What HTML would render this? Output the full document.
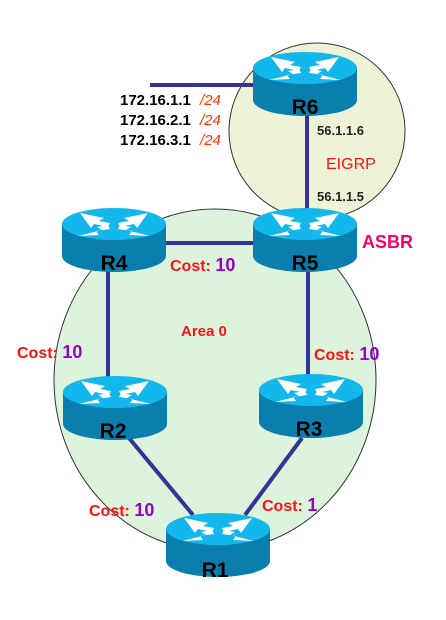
<!DOCTYPE html>
<html><head><meta charset="utf-8"><style>
html,body{margin:0;padding:0;background:#fff;}
svg text{font-family:"Liberation Sans",Arial,sans-serif;font-weight:bold;}
</style></head><body>
<svg width="446" height="615" viewBox="0 0 446 615" xmlns="http://www.w3.org/2000/svg">
<defs>
<g id="rt">
  <path d="M0,16 L0,48 A52,16 0 0 0 104,48 L104,16 Z" fill="#0a7fae"/>
  <ellipse cx="52" cy="16" rx="52" ry="16" fill="#12b8ec"/>
  <g fill="#fff">
    <polygon points="18,5 42,10 37,13 48,15 46,19 32,16 29,20"/>
    <polygon points="86,5 62,10 67,13 56,15 58,19 72,16 75,20"/>
    <polygon points="16,28 40,22 35,19 46,17 48,21 34,23 37,27"/>
    <polygon points="88,28 64,22 69,19 58,17 56,21 70,23 67,27"/>
  </g>
</g>
</defs>
<circle cx="317" cy="131" r="88" fill="#eef3d8" stroke="#333" stroke-width="1"/>
<ellipse cx="215" cy="380" rx="161" ry="171" fill="#dcf3dc" stroke="#333" stroke-width="1"/>
<g stroke="#333399" stroke-width="4" fill="none">
  <line x1="150" y1="85" x2="255" y2="85"/>
  <line x1="307" y1="115" x2="307" y2="210"/>
  <line x1="166" y1="243" x2="255" y2="243"/>
  <line x1="108" y1="268" x2="108" y2="380"/>
  <line x1="308" y1="268" x2="308" y2="378"/>
  <line x1="129" y1="438" x2="193" y2="515"/>
  <line x1="302" y1="438" x2="245" y2="515"/>
</g>
<use href="#rt" x="253" y="52"/>
<use href="#rt" x="253" y="208"/>
<use href="#rt" x="62" y="208"/>
<use href="#rt" x="63" y="376"/>
<use href="#rt" x="259" y="374"/>
<use href="#rt" x="166" y="513"/>
<g font-size="21" fill="#000" text-anchor="middle">
  <text x="305" y="114">R6</text>
  <text x="305" y="270">R5</text>
  <text x="114" y="270">R4</text>
  <text x="113" y="438">R2</text>
  <text x="309" y="436">R3</text>
  <text x="215" y="577">R1</text>
</g>
<g font-size="15" fill="#000">
  <text x="120" y="105">172.16.1.1</text>
  <text x="120" y="125">172.16.2.1</text>
  <text x="120" y="145">172.16.3.1</text>
</g>
<g font-size="15" fill="#ff3300" font-style="italic">
  <text x="200" y="105" style="font-weight:normal">/24</text>
  <text x="200" y="125" style="font-weight:normal">/24</text>
  <text x="200" y="145" style="font-weight:normal">/24</text>
</g>
<g font-size="13" fill="#222">
  <text x="317" y="135">56.1.1.6</text>
  <text x="317" y="201">56.1.1.5</text>
</g>
<text x="326" y="169" font-size="16" fill="#ff1111" style="font-weight:normal">EIGRP</text>
<text x="362" y="248" font-size="18" fill="#ff0066">ASBR</text>
<text x="181" y="336" font-size="15" fill="#ff1111">Area 0</text>
<g font-size="16" fill="#ff1111">
  <text x="170" y="271">Cost: <tspan fill="#9900cc" font-size="18">10</tspan></text>
  <text x="17" y="358">Cost: <tspan fill="#9900cc" font-size="18">10</tspan></text>
  <text x="314" y="360">Cost: <tspan fill="#9900cc" font-size="18">10</tspan></text>
  <text x="89" y="516">Cost: <tspan fill="#9900cc" font-size="18">10</tspan></text>
  <text x="262" y="511">Cost:  <tspan fill="#9900cc" font-size="18">1</tspan></text>
</g>
</svg>
</body></html>
